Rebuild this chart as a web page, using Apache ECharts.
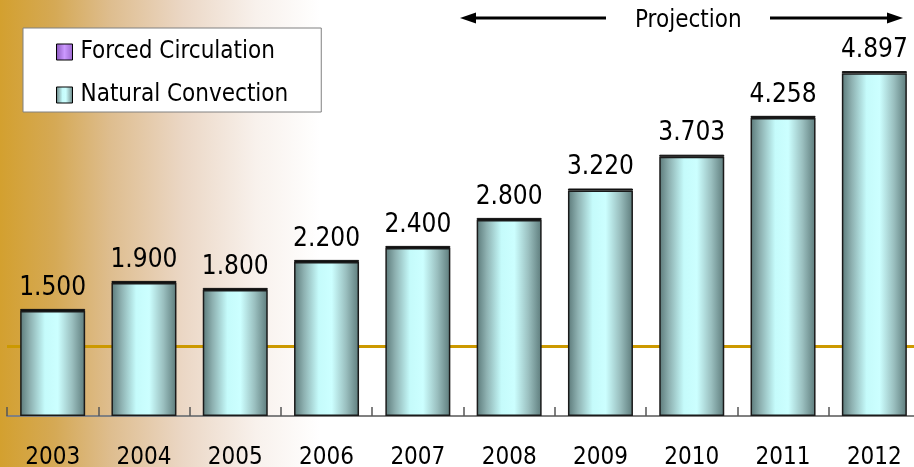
<!DOCTYPE html>
<html>
<head>
<meta charset="utf-8">
<script src="https://cdn.jsdelivr.net/npm/echarts@6/dist/echarts.min.js"></script>
<style>html,body{margin:0;padding:0;background:#fff}#c{width:914px;height:467px}</style>
</head>
<body>
<div id="c"></div>
<script>
var years = ['2003','2004','2005','2006','2007','2008','2009','2010','2011','2012'];
var naturalConvection = [1.500,1.900,1.800,2.200,2.400,2.800,3.220,3.703,4.258,4.897];
var forcedCirculation = [0.03,0.03,0.03,0.03,0.03,0.03,0.03,0.03,0.03,0.03];
var valueLabels = ['1.500','1.900','1.800','2.200','2.400','2.800','3.220','3.703','4.258','4.897'];

var FONT = '"DejaVu Sans Condensed", "DejaVu Sans"';
var chart = echarts.init(document.getElementById('c'));
var barGrad = new echarts.graphic.LinearGradient(0,0,1,0,[
  {offset:0,color:'#5B7979'},{offset:0.15,color:'#8DB0B0'},{offset:0.38,color:'#C5FBFB'},
  {offset:0.58,color:'#CCFFFF'},{offset:0.8,color:'#9ABFBF'},{offset:1,color:'#5D7B7B'}]);
var purpleGrad = new echarts.graphic.LinearGradient(0,0,1,0,[
  {offset:0,color:'#8855BB'},{offset:0.5,color:'#CC99FF'},{offset:1,color:'#9966CC'}]);

chart.setOption({
  animation:false,
  backgroundColor: new echarts.graphic.LinearGradient(0,0,1,0,[
    {offset:0,color:'#D3A02F'},{offset:0.06,color:'#D5A955'},{offset:0.12,color:'#DEBD8E'},
    {offset:0.2,color:'#EBD7C5'},{offset:0.28,color:'#F8F1EC'},{offset:0.35,color:'#FFFFFF'},{offset:1,color:'#FFFFFF'}]),
  grid:{left:7,right:-6,top:66,bottom:51,containLabel:false,outerBoundsMode:'none'},
  legend:{
    orient:'vertical',left:23,top:28,
    backgroundColor:'#fff',borderColor:'#808080',borderWidth:1,
    padding:[12,33,5,33],itemWidth:16,itemHeight:16,itemGap:19,
    icon:'rect',
    textStyle:{fontFamily:FONT,fontSize:24,color:'#000',padding:[0,0,0,3]},
    data:[{name:'Forced Circulation',itemStyle:{color:purpleGrad,borderColor:'#000',borderWidth:1}},
          {name:'Natural Convection',itemStyle:{color:barGrad,borderColor:'#000',borderWidth:1}}]
  },
  xAxis:{
    type:'category',data:years,boundaryGap:true,
    axisLine:{show:true,lineStyle:{color:'#808080',width:2}},
    axisTick:{show:true,inside:true,length:9,lineStyle:{color:'#555',width:1.5}},
    axisLabel:{fontFamily:FONT,fontSize:24,color:'#000',margin:30}
  },
  yAxis:{
    type:'value',min:0,max:5,interval:1,show:true,
    axisLine:{show:false},axisTick:{show:false},axisLabel:{show:false},
    splitLine:{show:true,lineStyle:{width:3,color:['rgba(0,0,0,0)','#CC9900','rgba(0,0,0,0)','rgba(0,0,0,0)','rgba(0,0,0,0)','rgba(0,0,0,0)']}}
  },
  series:[
    {name:'Natural Convection',type:'bar',stack:'t',barWidth:65,data:naturalConvection,
     itemStyle:{color:barGrad,borderColor:'#1a1a1a',borderWidth:1.5}},
    {name:'Forced Circulation',type:'bar',stack:'t',barWidth:65,data:forcedCirculation,
     itemStyle:{color:'#111',borderColor:'#111',borderWidth:1},
     label:{show:true,position:'top',distance:8,fontFamily:FONT,fontSize:26,color:'#000',
       formatter:function(p){return valueLabels[p.dataIndex];}}}
  ],
  graphic:[
    {type:'text',left:635,top:9,style:{text:'Projection',font:'24px "DejaVu Sans Condensed", "DejaVu Sans"',fill:'#000'}},
    {type:'line',shape:{x1:470,y1:18,x2:606,y2:18},style:{stroke:'#000',lineWidth:3}},
    {type:'polygon',shape:{points:[[460,18],[476,12.5],[476,23.5]]},style:{fill:'#000'}},
    {type:'line',shape:{x1:770,y1:18,x2:892,y2:18},style:{stroke:'#000',lineWidth:3}},
    {type:'polygon',shape:{points:[[903,18],[887,12.5],[887,23.5]]},style:{fill:'#000'}}
  ]
});
</script>
</body>
</html>
